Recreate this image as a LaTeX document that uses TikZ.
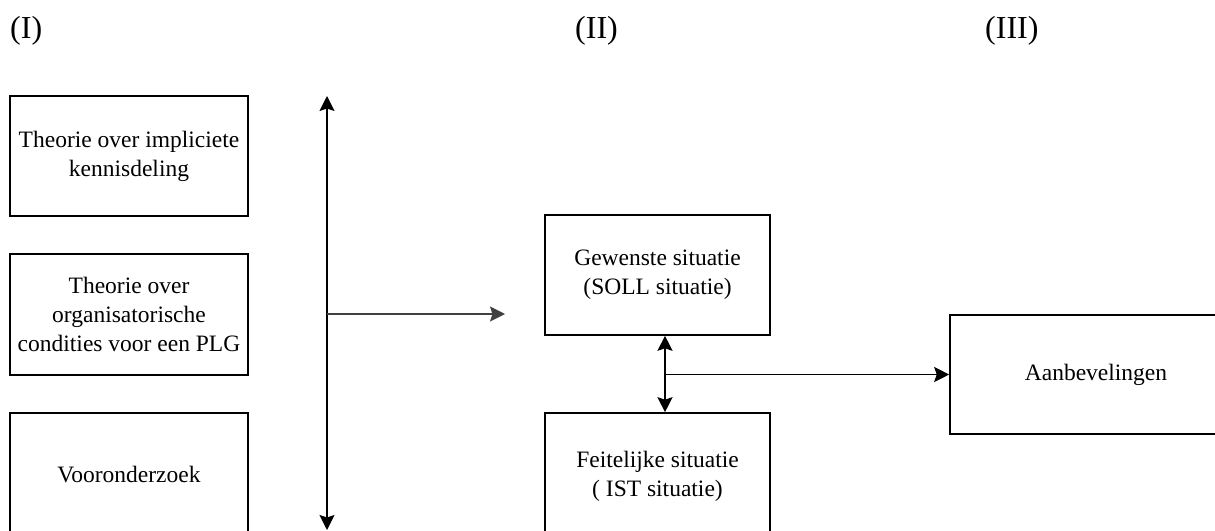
\documentclass[tikz,border=0pt]{standalone}
\usepackage{fontspec}
\setmainfont{Liberation Serif}
\usetikzlibrary{arrows.meta}
\begin{document}
\begin{tikzpicture}[x=1pt,y=-1pt,
  box/.style={draw, line width=1.6pt, align=center, inner sep=0pt,
    font=\fontsize{23.5}{29}\selectfont},
  hdr/.style={anchor=base west, inner sep=0pt, font=\fontsize{32}{36}\selectfont},
  tip/.style={Stealth[length=15pt,width=15pt,inset=2.5pt]},
  conn/.style={line width=1.6pt, -{Stealth[length=15pt,width=15pt,inset=2.5pt]}},
  dconn/.style={line width=1.6pt, {Stealth[length=15pt,width=15pt,inset=2.5pt]}-{Stealth[length=15pt,width=15pt,inset=2.5pt]}}]
\useasboundingbox (0,0) rectangle (1215,530);

\node[hdr] (h1) at (10,38) {(I)};
\node[hdr] (h2) at (575,38) {(II)};
\node[hdr] (h3) at (985,38) {(III)};

\node[box, minimum width=238pt, minimum height=120pt] (b1) at (129,156)
  {Theorie over impliciete\\kennisdeling};
\node[box, minimum width=238pt, minimum height=121pt] (b2) at (129,314.5)
  {Theorie over\\organisatorische\\condities voor een PLG};
\node[box, minimum width=238pt, minimum height=124pt] (b3) at (129,475)
  {Vooronderzoek};

\node[box, minimum width=225pt, minimum height=120pt] (gew) at (657.5,275)
  {Gewenste situatie\\(SOLL situatie)};
\node[box, minimum width=225pt, minimum height=126pt] (feit) at (657.5,476)
  {Feitelijke situatie\\( IST situatie)};
\node[box, minimum width=292pt, minimum height=119pt] (aan) at (1096,374.5)
  {Aanbevelingen};

\coordinate (vt) at (327,96);
\coordinate (vb) at (327,530);
\draw[dconn] (vb) -- (vt);

\coordinate (j1) at (327,314);
\coordinate (e1) at (505,314);
\draw[conn, black!75] (j1) -- (e1);

\draw[dconn] ([xshift=7.5pt]gew.south) -- ([xshift=7.5pt]feit.north);
\coordinate (j2) at (665,374.5);
\draw[conn] (j2) -- (aan.west);
\end{tikzpicture}
\end{document}
